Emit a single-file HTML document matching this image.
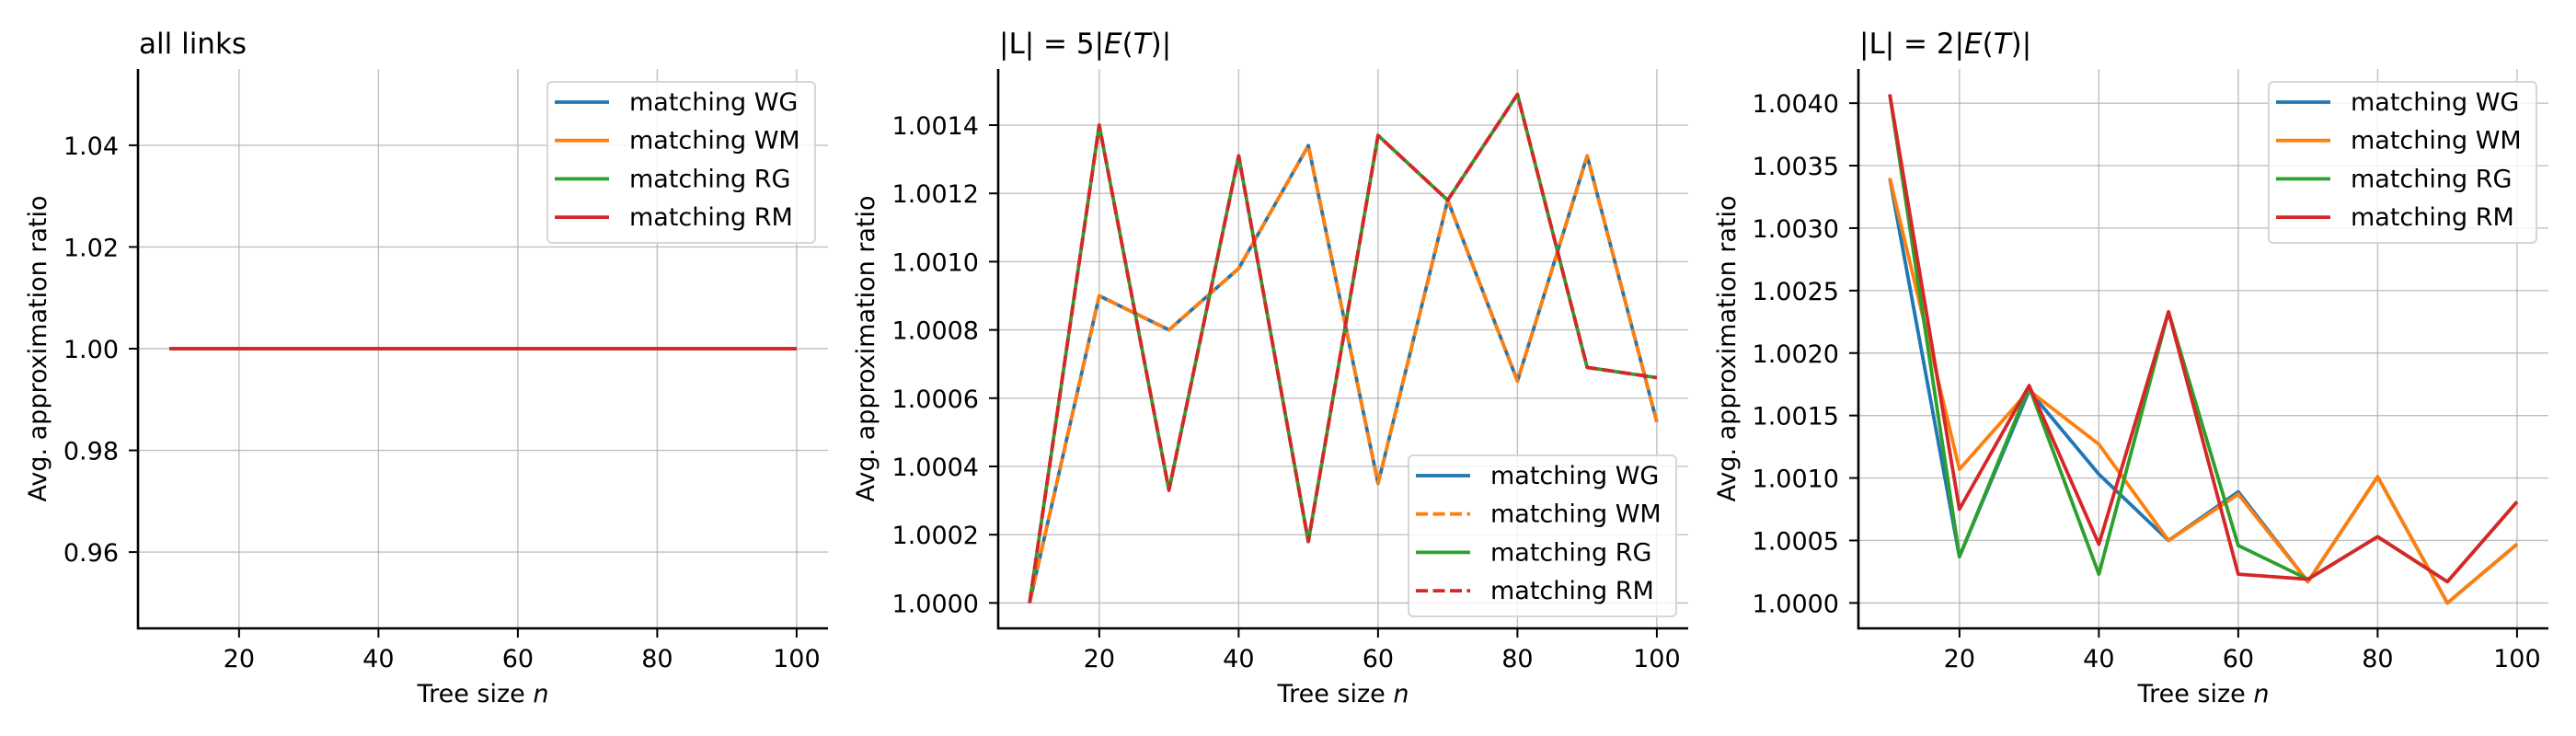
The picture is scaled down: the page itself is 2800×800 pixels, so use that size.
<!DOCTYPE html>
<html><head><meta charset="utf-8">
<style>
html,body{margin:0;padding:0;background:#fff;}
svg{display:block;font-family:"DejaVu Sans","Liberation Sans",sans-serif;}
</style></head>
<body>
<svg id="chart" width="2800" height="800" viewBox="0 0 2800 800" xmlns="http://www.w3.org/2000/svg"></svg>
<script>
// ---- data ----
const xValues = [10,20,30,40,50,60,70,80,90,100];
const xTicks = [20,40,60,80,100];
const seriesNames = ["matching WG","matching WM","matching RG","matching RM"];
const seriesColors = ["#1f77b4","#ff7f0e","#2ca02c","#d62728"];

// panel 1: all links
const p1WG = [1,1,1,1,1,1,1,1,1,1];
const p1WM = [1,1,1,1,1,1,1,1,1,1];
const p1RG = [1,1,1,1,1,1,1,1,1,1];
const p1RM = [1,1,1,1,1,1,1,1,1,1];
const p1YTicks = [0.96,0.98,1.00,1.02,1.04];
const p1YLabels = ["0.96","0.98","1.00","1.02","1.04"];

// panel 2: |L| = 5|E(T)|
const p2WG = [1.0000,1.0009,1.0008,1.00098,1.00134,1.00035,1.00118,1.00065,1.00131,1.00053];
const p2WM = [1.0000,1.0009,1.0008,1.00098,1.00134,1.00035,1.00118,1.00065,1.00131,1.00053];
const p2RG = [1.0000,1.0014,1.00033,1.00131,1.00018,1.00137,1.00118,1.00149,1.00069,1.00066];
const p2RM = [1.0000,1.0014,1.00033,1.00131,1.00018,1.00137,1.00118,1.00149,1.00069,1.00066];
const p2YTicks = [1.0000,1.0002,1.0004,1.0006,1.0008,1.0010,1.0012,1.0014];
const p2YLabels = ["1.0000","1.0002","1.0004","1.0006","1.0008","1.0010","1.0012","1.0014"];

// panel 3: |L| = 2|E(T)|
const p3WG = [1.0034,1.00037,1.0017,1.00103,1.0005,1.00089,1.00017,1.00101,1.0000,1.00047];
const p3WM = [1.0034,1.00107,1.0017,1.00127,1.0005,1.00087,1.00017,1.00101,1.0000,1.00047];
const p3RG = [1.00407,1.00037,1.00173,1.00023,1.00233,1.00046,1.00019,1.00053,1.00017,1.00081];
const p3RM = [1.00407,1.00075,1.00174,1.00047,1.00233,1.00023,1.00019,1.00053,1.00017,1.00081];
const p3YTicks = [1.0000,1.0005,1.0010,1.0015,1.0020,1.0025,1.0030,1.0035,1.0040];
const p3YLabels = ["1.0000","1.0005","1.0010","1.0015","1.0020","1.0025","1.0030","1.0035","1.0040"];

const NS = "http://www.w3.org/2000/svg";
const svg = document.getElementById("chart");
function mk(tag, attrs, parent){
  const e = document.createElementNS(NS, tag);
  for (const k in attrs) e.setAttribute(k, attrs[k]);
  (parent||svg).appendChild(e);
  return e;
}

function panel(cfg){
  const g = mk("g", {});
  
  
  const L=cfg.left, R=cfg.right, T=75, B=683;
  const allY = [].concat(...cfg.series);
  let ymin = Math.min(...allY), ymax = Math.max(...allY);
  let pad = (ymax-ymin)*0.05;
  if (pad===0){ ymin = ymin-0.055; ymax = ymax+0.055; pad=0; }
  const y0 = ymin-pad, y1 = ymax+pad;
  const xmin = Math.min(...xValues), xmax = Math.max(...xValues);
  const xp = (xmax-xmin)*0.05;
  const X = v => L + (v-(xmin-xp))/((xmax+xp)-(xmin-xp))*(R-L);
  const Y = v => B - (v-y0)/(y1-y0)*(B-T);

  xTicks.forEach(t=>{
    const l = mk("line",{x1:X(t),x2:X(t),y1:T,y2:B,stroke:"#b0b0b0","stroke-width":1.4,"stroke-opacity":0.8},g);
    
    
  });
  cfg.yTicks.forEach(t=>{
    const l = mk("line",{x1:L,x2:R,y1:Y(t),y2:Y(t),stroke:"#b0b0b0","stroke-width":1.4,"stroke-opacity":0.8},g);
    
    
  });

  cfg.series.forEach((vals,i)=>{
    const pts = vals.map((v,j)=>X(xValues[j]).toFixed(1)+","+Y(v).toFixed(1)).join(" ");
    const attrs = {points:pts,fill:"none",stroke:seriesColors[i],"stroke-width":3.8,"stroke-linejoin":"round"};
    if (cfg.dashed[i]) attrs["stroke-dasharray"]="13,5.5";
    const p = mk("polyline",attrs,g);
    
    
  });

  const sp = mk("path",{d:`M${L},${T} L${L},${B} L${R},${B}`,fill:"none",stroke:"#000","stroke-width":2.6},g);
  
  

  xTicks.forEach(t=>{
    mk("line",{x1:X(t),x2:X(t),y1:B,y2:B+10,stroke:"#000","stroke-width":2},g);
    const tx = mk("text",{x:X(t),y:725,"text-anchor":"middle","font-size":27,fill:"#000"},g);
    tx.textContent = t;
    
    
  });
  cfg.yTicks.forEach((t,k)=>{
    mk("line",{x1:L-10,x2:L,y1:Y(t),y2:Y(t),stroke:"#000","stroke-width":2},g);
    const tx = mk("text",{x:L-21,y:Y(t)+10,"text-anchor":"end","font-size":27,fill:"#000"},g);
    tx.textContent = cfg.yLabels[k];
    
    
  });

  const xl = mk("text",{x:(L+R)/2,y:763,"text-anchor":"middle","font-size":27,fill:"#000"},g);
  xl.innerHTML = 'Tree size <tspan font-style="italic">n</tspan>';
  
  
  const yl = mk("text",{x:0,y:0,"text-anchor":"middle","font-size":27,fill:"#000",transform:`translate(${cfg.ylabX},379) rotate(-90)`},g);
  yl.textContent = "Avg. approximation ratio";
  
  
  const tt = mk("text",{x:L+1,y:58,"font-size":31,fill:"#000"},g);
  tt.innerHTML = cfg.title;
  
  

  const lg = mk("g",{},g);
  
  
  const lx = cfg.legX, ly = cfg.legY;
  mk("rect",{x:lx,y:ly,width:291,height:175,rx:5,fill:"#fff","fill-opacity":0.8,stroke:"#d6d6d6","stroke-width":2},lg);
  seriesNames.forEach((n,i)=>{
    const yy = ly+22+i*41.7;
    const la = {x1:lx+8,x2:lx+67,y1:yy,y2:yy,stroke:seriesColors[i],"stroke-width":3.8};
    if (cfg.dashed[i]) la["stroke-dasharray"]="13,5.5";
    mk("line",la,lg);
    const tx = mk("text",{x:lx+89,y:yy+9,"font-size":27,fill:"#000"},lg);
    tx.textContent = n;
    
    
  });
}

panel({name:"panel-all-links",left:150,right:900,ylabX:50,title:"all links",
  series:[p1WG,p1WM,p1RG,p1RM],dashed:[false,false,false,false],
  yTicks:p1YTicks,yLabels:p1YLabels,legX:595,legY:89});
panel({name:"panel-5E",left:1085,right:1835,ylabX:950,
  title:'|L| = 5|<tspan font-style="italic">E</tspan>(<tspan font-style="italic">T</tspan>)|',
  series:[p2WG,p2WM,p2RG,p2RM],dashed:[false,true,false,true],
  yTicks:p2YTicks,yLabels:p2YLabels,legX:1531,legY:495});
panel({name:"panel-2E",left:2020,right:2770,ylabX:1886,
  title:'|L| = 2|<tspan font-style="italic">E</tspan>(<tspan font-style="italic">T</tspan>)|',
  series:[p3WG,p3WM,p3RG,p3RM],dashed:[false,false,false,false],
  yTicks:p3YTicks,yLabels:p3YLabels,legX:2466,legY:89});
</script>
</body></html>
